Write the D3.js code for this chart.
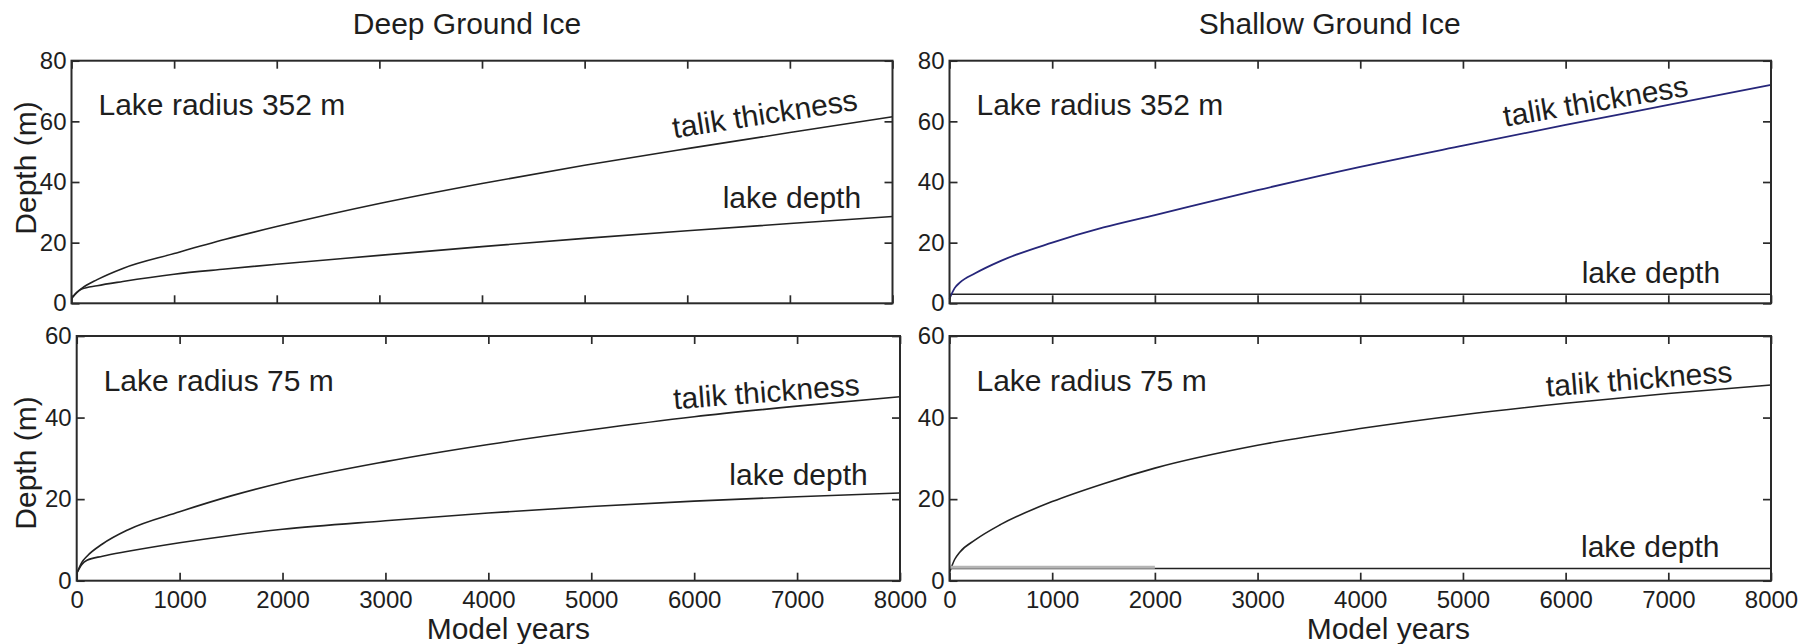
<!DOCTYPE html>
<html>
<head>
<meta charset="utf-8">
<script src="https://cdn.jsdelivr.net/npm/d3@7"></script>
<style>
  html, body { margin: 0; padding: 0; background: #fff; }
  svg { display: block; }
  text { font-family: "Liberation Sans", Arial, Helvetica, sans-serif; fill: #1e1e1e; }
</style>
</head>
<body>
<svg id="chart" width="1809" height="644"></svg>
<script>
// Model years sampled for every curve
const years = [0, 50, 100, 250, 500, 1000, 1500, 2000, 3000, 4000, 5000, 6000, 7000, 8000];

// Deep ground ice, lake radius 352 m
const deep352Talik = [1.6, 3.5, 4.9, 7.8, 11.5, 16.4, 21.1, 25.3, 32.9, 39.5, 45.5, 51.0, 56.3, 61.5];
const deep352Lake  = [1.6, 3.5, 4.7, 5.8, 7.2, 9.6, 11.3, 12.9, 15.8, 18.7, 21.4, 23.9, 26.3, 28.6];

// Shallow ground ice, lake radius 352 m
const shallow352Talik = [1.5, 5.0, 6.8, 9.9, 14.0, 20.0, 25.0, 29.1, 37.3, 45.0, 52.0, 58.8, 65.4, 72.0];
const shallow352Lake  = [3, 3, 3, 3, 3, 3, 3, 3, 3, 3, 3, 3, 3, 3];

// Deep ground ice, lake radius 75 m
const deep75Talik = [1.8, 4.5, 6.0, 9.0, 12.5, 16.9, 20.8, 24.1, 29.2, 33.4, 37.0, 40.2, 42.8, 45.1];
const deep75Lake  = [1.8, 4.0, 5.0, 6.0, 7.2, 9.3, 11.1, 12.6, 14.7, 16.6, 18.2, 19.5, 20.6, 21.5];

// Shallow ground ice, lake radius 75 m
const shallow75Talik = [2.0, 5.2, 7.0, 10.0, 13.8, 19.4, 23.8, 27.6, 33.2, 37.3, 40.7, 43.5, 45.9, 48.0];
const shallow75Lake  = [3, 3, 3, 3, 3, 3, 3, 3, 3, 3, 3, 3, 3, 3];
const shallow75LakeEarlyYears = [0, 2000];
const shallow75LakeEarly      = [3.3, 3.3];

// Axis ticks
const xTicks = [0, 1000, 2000, 3000, 4000, 5000, 6000, 7000, 8000];
const yTicksTop = [0, 20, 40, 60, 80];
const yTicksBottom = [0, 20, 40, 60];

// Column titles and text labels
const columnTitles = ["Deep Ground Ice", "Shallow Ground Ice"];
const radiusLabels = ["Lake radius 352 m", "Lake radius 75 m"];
const talikLabel = "talik thickness";
const lakeLabel = "lake depth";
const yAxisLabel = "Depth (m)";
const xAxisLabel = "Model years";

const svg = d3.select("#chart");
const ink = "#2a2a2a";

const panels = [
  { box: { x0: 71.5, x1: 892.5, y0: 60.7, y1: 303.3 }, yMax: 80, yTicks: yTicksTop, xLabels: false,
    radius: radiusLabels[0],
    series: [
      { x: years, y: deep352Talik, color: "#222", width: 1.6 },
      { x: years, y: deep352Lake, color: "#222", width: 1.6 }
    ],
    talikPos: { x: 602.5, y: 138.3, angle: -8.8 },
    lakePos: { x: 651.2, y: 208.3 } },
  { box: { x0: 949.5, x1: 1771, y0: 60.7, y1: 303.3 }, yMax: 80, yTicks: yTicksTop, xLabels: false,
    radius: radiusLabels[0],
    series: [
      { x: years, y: shallow352Lake, color: "#222", width: 1.6 },
      { x: years, y: shallow352Talik, color: "#26267a", width: 1.8 }
    ],
    talikPos: { x: 555.5, y: 126.7, angle: -9.5 },
    lakePos: { x: 632.2, y: 282.7 } },
  { box: { x0: 76.7, x1: 900, y0: 336, y1: 580.7 }, yMax: 60, yTicks: yTicksBottom, xLabels: true,
    radius: radiusLabels[1],
    series: [
      { x: years, y: deep75Talik, color: "#222", width: 1.6 },
      { x: years, y: deep75Lake, color: "#222", width: 1.6 }
    ],
    talikPos: { x: 597.3, y: 409.3, angle: -4.4 },
    lakePos: { x: 652.6, y: 485 } },
  { box: { x0: 949.5, x1: 1771, y0: 336, y1: 580.7 }, yMax: 60, yTicks: yTicksBottom, xLabels: true,
    radius: radiusLabels[1],
    series: [
      { x: years, y: shallow75Talik, color: "#222", width: 1.6 },
      { x: years, y: shallow75Lake, color: "#222", width: 1.6 },
      { x: shallow75LakeEarlyYears, y: shallow75LakeEarly, color: "#b4b4b4", width: 3.2 }
    ],
    talikPos: { x: 597.2, y: 396.7, angle: -4.6 },
    lakePos: { x: 631.5, y: 557.3 } }
];

panels.forEach(p => {
  const b = p.box;
  const x = d3.scaleLinear().domain([0, 8000]).range([b.x0, b.x1]);
  const y = d3.scaleLinear().domain([0, p.yMax]).range([b.y1, b.y0]);
  const g = svg.append("g");

  // data curves
  const line = d3.line().curve(d3.curveMonotoneX);
  p.series.forEach(s => {
    const pts = s.x.map((t, i) => [x(t), y(s.y[i])]);
    g.append("path")
      .attr("d", line(pts))
      .attr("fill", "none")
      .attr("stroke", s.color)
      .attr("stroke-width", s.width)
      .attr("stroke-linejoin", "round");
  });

  // axes with inward ticks on all four sides
  const styleAxis = sel => {
    sel.select(".domain").remove();
    sel.selectAll(".tick line").attr("stroke", ink).attr("stroke-width", 1.7);
    sel.selectAll(".tick text").attr("fill", "#1e1e1e")
      .style("font-family", "'Liberation Sans', Arial, sans-serif").style("font-size", "24px");
  };
  g.append("g").attr("transform", `translate(${b.x0},0)`)
    .call(d3.axisLeft(y).tickValues(p.yTicks).tickSizeInner(-8).tickSizeOuter(0).tickPadding(5).tickFormat(d3.format("d")))
    .call(styleAxis);
  g.append("g").attr("transform", `translate(${b.x1},0)`)
    .call(d3.axisRight(y).tickValues(p.yTicks).tickSizeInner(-8).tickSizeOuter(0).tickFormat(() => ""))
    .call(styleAxis);
  g.append("g").attr("transform", `translate(0,${b.y0})`)
    .call(d3.axisTop(x).tickValues(xTicks).tickSizeInner(-8).tickSizeOuter(0).tickFormat(() => ""))
    .call(styleAxis);
  g.append("g").attr("transform", `translate(0,${b.y1})`)
    .call(d3.axisBottom(x).tickValues(xTicks).tickSizeInner(-8).tickSizeOuter(0).tickPadding(10)
      .tickFormat(p.xLabels ? d3.format("d") : () => ""))
    .call(styleAxis);

  // frame
  g.append("rect")
    .attr("x", b.x0).attr("y", b.y0)
    .attr("width", b.x1 - b.x0).attr("height", b.y1 - b.y0)
    .attr("fill", "none").attr("stroke", ink).attr("stroke-width", 2);

  // radius label
  g.append("text")
    .attr("x", b.x0 + 27).attr("y", b.y0 + (p.yMax === 80 ? 54.3 : 54.7))
    .style("font-size", "30px")
    .text(p.radius);

  // curve labels
  g.append("text")
    .attr("transform", `translate(${b.x0 + p.talikPos.x},${p.talikPos.y}) rotate(${p.talikPos.angle})`)
    .style("font-size", "30px")
    .text(talikLabel);
  g.append("text")
    .attr("x", b.x0 + p.lakePos.x).attr("y", p.lakePos.y)
    .style("font-size", "30px")
    .text(lakeLabel);
});

// column titles
svg.append("text").attr("x", 352.8).attr("y", 34.3).style("font-size", "30px").text(columnTitles[0]);
svg.append("text").attr("x", 1198.8).attr("y", 34.3).style("font-size", "30px").text(columnTitles[1]);

// y-axis titles
[168, 463].forEach(cy => {
  svg.append("text")
    .attr("transform", `translate(36,${cy}) rotate(-90)`)
    .attr("text-anchor", "middle")
    .style("font-size", "30px")
    .text(yAxisLabel);
});

// x-axis titles
svg.append("text").attr("x", 426.7).attr("y", 639).style("font-size", "30px").text(xAxisLabel);
svg.append("text").attr("x", 1306.7).attr("y", 639).style("font-size", "30px").text(xAxisLabel);
</script>
</body>
</html>
